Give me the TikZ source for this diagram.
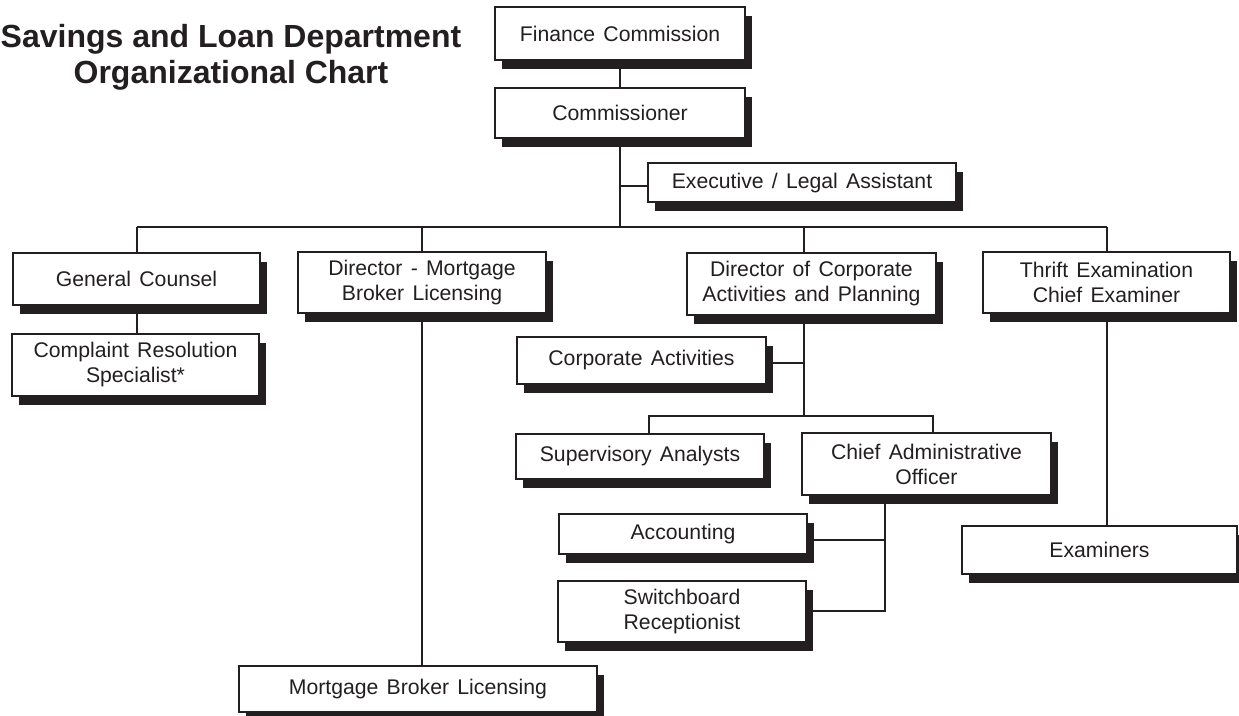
\documentclass[tikz,border=0pt]{standalone}
\usepackage{fontspec}
\setmainfont{Liberation Sans}
\newfontfamily\boxfont{Liberation Sans}[WordSpace=1.4]
\usetikzlibrary{shadows}
\definecolor{ink}{HTML}{231F20}
\tikzset{
  post/.style={draw=ink, line width=1pt, fill=white, inner sep=0pt, align=center,
    text=ink, font=\boxfont\fontsize{10.6}{12.5}\selectfont,
    drop shadow={shadow xshift=3.5pt, shadow yshift=-4.5pt, fill=ink, opacity=1}},
  link/.style={draw=ink, line width=1pt}
}
\begin{document}
\begin{tikzpicture}[x=0.5pt,y=-0.5pt]
\useasboundingbox (0,0) rectangle (1239,716);
\node[text=ink, align=center, font=\fontsize{16}{18}\selectfont\bfseries] (title) at (231,57)
  {Savings and Loan Department\\Organizational Chart};
% top of the chart
\node[post, minimum width=125pt, minimum height=26.5pt] (fin) at (620,33.5) {Finance Commission};
\node[post, minimum width=125pt, minimum height=25pt] (com) at (620,113) {Commissioner};
\node[post, minimum width=154pt, minimum height=19.5pt] (exe) at (802,183) {Executive / Legal Assistant};
% first row
\node[post, minimum width=123.5pt, minimum height=26pt] (gc) at (136.5,279) {General Counsel};
\node[post, minimum width=124pt, minimum height=30.5pt] (dmb) at (422,282.5) {Director - Mortgage\\Broker Licensing};
\node[post, minimum width=124.5pt, minimum height=31pt] (dca) at (811.5,284) {Director of Corporate\\Activities and Planning};
\node[post, minimum width=123.5pt, minimum height=30.5pt] (tec) at (1106.5,282.5) {Thrift Examination\\Chief Examiner};
% below
\node[post, minimum width=123.5pt, minimum height=31pt] (crs) at (135.5,365) {Complaint Resolution\\Specialist*};
\node[post, minimum width=179pt, minimum height=23pt] (mbl) at (418,689) {Mortgage Broker Licensing};
\node[post, minimum width=124.5pt, minimum height=23.5pt] (cor) at (641.5,360.5) {Corporate Activities};
\node[post, minimum width=124pt, minimum height=22.5pt] (sup) at (640,456.5) {Supervisory Analysts};
\node[post, minimum width=124.5pt, minimum height=31pt] (cao) at (926.5,464) {Chief Administrative\\Officer};
\node[post, minimum width=124pt, minimum height=20pt] (acc) at (683,534) {Accounting};
\node[post, minimum width=124pt, minimum height=30.5pt] (swb) at (682,611.5) {Switchboard\\Receptionist};
\node[post, minimum width=137.5pt, minimum height=24pt] (exa) at (1099.5,550) {Examiners};
% branch points
\coordinate (hub) at (620,227);
\coordinate (cbr) at (804,416);
\coordinate (abr) at (885,612);
% lines
\draw[link] (fin) -- (com);
\draw[link] (com.south) -- (hub);
\draw[link] ([yshift=-1.5pt]exe.west -| hub) -- ([yshift=-1.5pt]exe.west);
\draw[link] (gc.north |- hub) -- (tec.north |- hub);
\foreach \n in {gc,dmb,tec}
  \draw[link] (\n.north |- hub) -- (\n.north);
\draw[link] (hub -| cbr) -- (dca.north -| cbr);
\draw[link] (gc.south) -- (gc.south |- crs.north);
\draw[link] (dmb.south) -- (dmb.south |- mbl.north);
\draw[link] (tec.south) -- (tec.south |- exa.north);
\draw[link] (dca.south -| cbr) -- (cbr);
\draw[link] ([yshift=-1.5pt]cor.east) -- ([yshift=-1.5pt]cor.east -| cbr);
\draw[link] (sup.north -| 649,0) |- (cbr) -| (cao.north -| 933,0);
\draw[link] (cao.south -| abr) |- (swb.east);
\draw[link] ([yshift=-3pt]acc.east) -- ([yshift=-3pt]acc.east -| abr);
\end{tikzpicture}
\end{document}
